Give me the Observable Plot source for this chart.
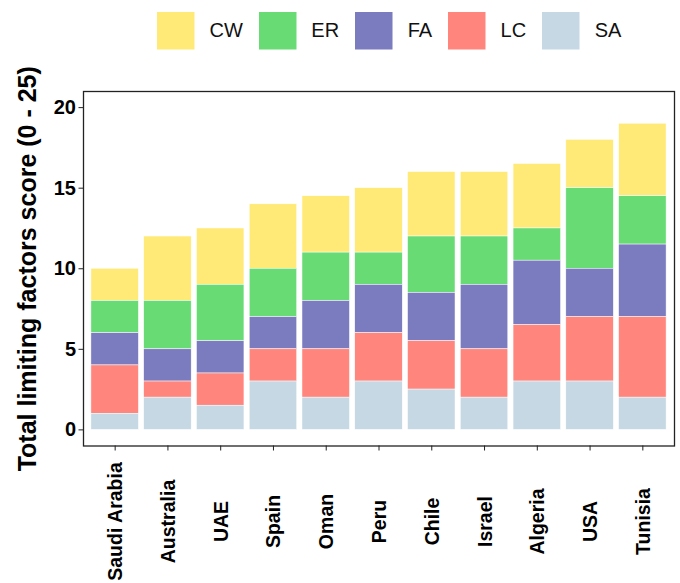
<!DOCTYPE html>
<html><head><meta charset="utf-8">
<script src="https://cdn.jsdelivr.net/npm/d3@7"></script>
<script src="https://cdn.jsdelivr.net/npm/@observablehq/plot@0.6"></script>
<style>
body{margin:0;background:#fff;font-family:"Liberation Sans",Arial,sans-serif;}
#legend{height:60px;box-sizing:border-box;padding-left:157px;padding-top:12px;overflow:hidden;}
#legend .lg-swatch > svg{margin-right:15px !important;}
#legend .lg-swatches-wrap .lg-swatch{margin-right:16px !important;}
#chart svg{display:block;}
</style></head><body>
<div id="legend"></div><div id="chart"></div>
<script>
const countries = ["Saudi Arabia","Australia","UAE","Spain","Oman","Peru","Chile","Israel","Algeria","USA","Tunisia"];
const factors = ["CW","ER","FA","LC","SA"];
const colors = ["#ffea78","#68db75","#7b7bbf","#ff857d","#c5d8e3"];
const stackOrder = ["SA","LC","FA","ER","CW"];
const SA = [1, 2, 1.5, 3, 2, 3, 2.5, 2, 3, 3, 2];
const LC = [3, 1, 2, 2, 3, 3, 3, 3, 3.5, 4, 5];
const FA = [2, 2, 2, 2, 3, 3, 3, 4, 4, 3, 4.5];
const ER = [2, 3, 3.5, 3, 3, 2, 3.5, 3, 2, 5, 3];
const CW = [2, 4, 3.5, 4, 3.5, 4, 4, 4, 4, 3, 4.5];
const yTicks = [0, 5, 10, 15, 20];
const yTitle = "Total limiting factors score (0 - 25)";

const series = {CW, ER, FA, LC, SA};
const data = countries.flatMap((c, i) => factors.map(f => ({country: c, factor: f, value: series[f][i]})));
const font = "Liberation Sans, Arial, sans-serif";

const legend = Plot.legend({
  color: {domain: factors, range: colors},
  legend: "swatches",
  swatchSize: 37.5,
  className: "lg",
  style: {fontSize: "20px", fontFamily: font, color: "#111", marginBottom: "0"}
});
document.getElementById("legend").appendChild(legend);

const chart = Plot.plot({
  width: 680, height: 523,
  marginLeft: 83, marginRight: 6, marginTop: 31, marginBottom: 137.5,
  style: {fontFamily: font, background: "white", color: "black"},
  x: {domain: countries, paddingInner: 0.1, paddingOuter: 0.15, round: false, axis: null},
  y: {domain: [-1, 21], axis: null},
  color: {domain: factors, range: colors},
  marks: [
    Plot.barY(data, {x: "country", y: "value", fill: "factor", order: stackOrder, stroke: "white", strokeWidth: 0.5}),
    Plot.frame({stroke: "#222", strokeWidth: 1.3}),
    Plot.axisY(yTicks, {anchor: "left", tickSize: 4.5, tickPadding: 3, fontSize: 20, fontWeight: "bold", label: null, stroke: "#222"}),
    Plot.axisX({anchor: "bottom", tickSize: 5, tickFormat: () => "", label: null, stroke: "#222"}),
    Plot.text(countries, {x: d => d, frameAnchor: "bottom", dx: 7, dy: 75.5, rotate: -90, textAnchor: "middle", fontSize: 19.5, fontWeight: "bold", fill: "black"}),
    Plot.text([yTitle], {frameAnchor: "left", dx: -48, rotate: -90, lineAnchor: "bottom", textAnchor: "middle", fontSize: 25, fontWeight: "bold", fill: "black"})
  ]
});
document.getElementById("chart").appendChild(chart);
</script>
</body></html>
